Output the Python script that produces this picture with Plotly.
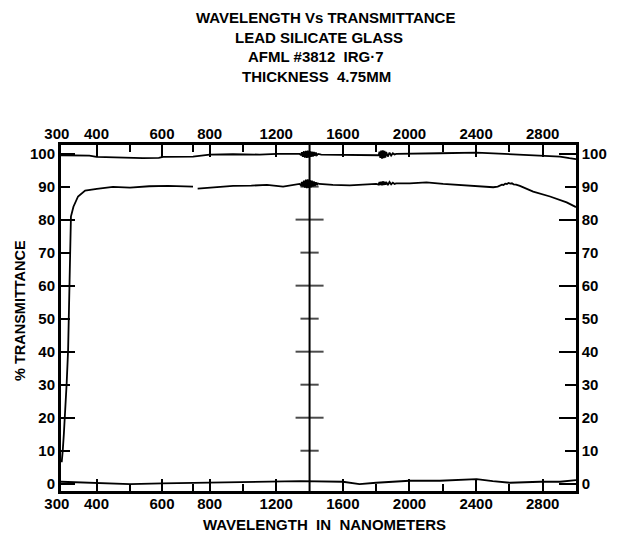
import numpy as np
import plotly.graph_objects as go

# ---- data: wavelength (nm) and % transmittance along each pen trace ----
SAMPLE_NM = [302, 304, 305, 308, 311, 316, 320, 322, 325, 326, 327, 328, 335, 348, 368, 385,
             401, 449, 500, 560, 620, 700, None, 728, 760, 850, 941, 1050, 1144, 1241, 1300, 1340,
             1348, 1354, 1360, 1366, 1372, 1378, 1384, 1390, 1396, 1402, 1408, 1414, 1420, 1426,
             1432, 1438, 1444, 1450, 1458,
             1540, 1641, 1741, 1800,
             1815, 1820, 1825, 1830, 1835, 1840, 1845, 1850, 1855, 1860, 1870, 1880, 1890, 1900,
             1910, 1920,
             2001, 2102, 2202, 2302, 2403, 2503, 2530,
             2545, 2555, 2565, 2575, 2585, 2595, 2605, 2615, 2625, 2640,
             2663, 2743, 2844, 2944, 3000]
SAMPLE_T = [6.5, 8.0, 10.2, 15.0, 20.2, 30.5, 40.5, 49.9, 59.6, 67.8, 76.0, 80.9, 83.9, 87.0, 88.8, 89.1,
            89.3, 89.9, 89.7, 90.1, 90.2, 90.0, None, 89.4, 89.5, 89.8, 90.2, 90.3, 90.5, 90.0, 90.4, 90.8,
            90.4, 91.4, 90.0, 91.8, 89.7, 92.1, 89.5, 92.2, 89.6, 92.0, 89.8, 91.8, 90.0, 91.6,
            90.2, 91.3, 90.5, 91.0, 90.8,
            90.5, 90.4, 90.7, 90.8,
            90.6, 91.4, 90.5, 91.5, 90.4, 91.6, 90.5, 91.5, 90.6, 91.4, 90.5, 91.4, 90.7, 91.2,
            90.8, 91.0,
            91.0, 91.3, 90.8, 90.5, 90.2, 89.8, 90.0,
            90.3, 90.6, 90.5, 90.9, 90.8, 91.1, 90.9, 91.0, 90.7, 90.6,
            90.2, 88.5, 87.0, 85.2, 83.8]

REF100_NM = [300, 380, 400, 450, 540, 590, 603, 700, 800, 940, 1100, 1205, 1340,
             1348, 1354, 1360, 1366, 1372, 1378, 1384, 1390, 1396, 1402, 1408, 1414, 1420, 1426,
             1432, 1438, 1444, 1452, 1470,
             1641, 1780,
             1815, 1820, 1825, 1830, 1835, 1840, 1845, 1850, 1855, 1860, 1870, 1880, 1890, 1900,
             1910, 1920,
             2001, 2182, 2403, 2603, 2784, 2904, 2960, 3000]
REF100_T = [99.5, 99.4, 99.0, 98.8, 98.6, 98.7, 99.0, 99.1, 99.7, 99.8, 99.7, 99.9, 99.9,
            99.6, 100.4, 99.0, 100.7, 98.8, 100.8, 98.7, 100.9, 98.8, 100.7, 99.0, 100.6, 99.1, 100.5,
            99.3, 100.3, 99.5, 99.9, 99.7,
            99.6, 99.7,
            99.5, 100.6, 98.7, 100.9, 98.5, 101.0, 98.6, 100.8, 98.8, 100.5, 99.1, 100.3, 99.4, 100.1,
            99.7, 99.9,
            99.9, 100.1, 100.3, 99.9, 99.4, 99.1, 98.6, 98.3]

ZERO_NM = [300, 400, 500, 600, 742, 1043, 1344, 1600, 1700, 1800, 2000, 2182, 2403, 2500,
           2603, 2784, 2904, 3000]
ZERO_T = [0.6, 0.3, -0.1, 0.1, 0.3, 0.6, 0.8, 0.6, -0.1, 0.3, 0.9, 0.9, 1.4, 0.8,
          0.3, 0.6, 0.6, 1.1]

LABELED_NM = [300, 400, 600, 800, 1200, 1600, 2000, 2400, 2800]
UNLABELED_NM = [500, 700, 1000, 1800, 2200, 2600]
PCT_TICKS = list(range(0, 101, 10))
SPLIT_NM = 1400

TITLE_LINES = ["WAVELENGTH Vs TRANSMITTANCE", "LEAD SILICATE GLASS",
               "AFML #3812  IRG·7", "THICKNESS  4.75MM"]
X_TITLE = "WAVELENGTH  IN  NANOMETERS"
Y_TITLE = "% TRANSMITTANCE"

# ---- chart-paper wavelength scale (drive runs faster below 700 nm) ----
SCALE_NM = [300, 400, 500, 600, 700, 3000]
SCALE_POS = [0.0, 35.5, 69.0, 101.0, 132.0, 515.0]


def chart_pos(nm):
    return float(np.interp(nm, SCALE_NM, SCALE_POS))


def to_pos(values):
    return [None if v is None else chart_pos(v) for v in values]


def tick_text(v):
    # the first label sits a little left of the frame corner
    return "300\u00a0\u00a0" if v == 300 else str(v)


INK = "#000000"
FONT = "Liberation Sans"
W, H = 620, 536
L, R, T, B = 61, 44, 145, 45
X_RANGE = [SCALE_POS[0], SCALE_POS[-1]]
Y_RANGE = [-2.2, 102.6]


def paper(px, py):
    """Figure pixel position -> paper coordinates of the plotting area."""
    return (px - L) / (W - L - R), (H - B - py) / (H - T - B)


fig = go.Figure()

for nm, t in [(REF100_NM, REF100_T), (SAMPLE_NM, SAMPLE_T), (ZERO_NM, ZERO_T)]:
    fig.add_trace(go.Scatter(x=to_pos(nm), y=t, mode="lines", connectgaps=False,
                             line=dict(color=INK, width=1.8),
                             hoverinfo="skip", showlegend=False))

# cross ticks along the 1400 nm chart split
split_y = PCT_TICKS[1:-1]
fig.add_trace(go.Scatter(
    x=[chart_pos(SPLIT_NM)] * len(split_y), y=split_y, mode="markers",
    marker=dict(symbol="line-ew", size=[20 if v % 20 == 0 else 13 for v in split_y],
                line=dict(color=INK, width=2)),
    hoverinfo="skip", showlegend=False))

# empty traces that carry the extra overlaid axes
for xa, ya in [("x2", "y"), ("x", "y2"), ("x", "y3"), ("x", "y4")]:
    fig.add_trace(go.Scatter(x=[], y=[], xaxis=xa, yaxis=ya, hoverinfo="skip",
                             showlegend=False))

fig.add_shape(type="line", xref="x", yref="paper",
              x0=chart_pos(SPLIT_NM), x1=chart_pos(SPLIT_NM), y0=0, y1=1,
              line=dict(color=INK, width=2))

tickfont = dict(family=FONT, size=15, color=INK, weight="bold")
x_common = dict(range=X_RANGE, showgrid=False, zeroline=False, ticks="inside",
                tickmode="array", tickvals=[chart_pos(v) for v in LABELED_NM],
                ticktext=[tick_text(v) for v in LABELED_NM], ticklen=12, tickwidth=2,
                tickcolor=INK, tickfont=tickfont, showline=True, linecolor=INK,
                ticklabelstandoff=-3,
                minor=dict(tickmode="array", tickvals=[chart_pos(v) for v in UNLABELED_NM],
                           ticks="inside", ticklen=7, tickwidth=2, tickcolor=INK))
y_common = dict(range=Y_RANGE, showgrid=False, zeroline=False, ticks="inside",
                tickmode="array", tickvals=PCT_TICKS, tickwidth=2, tickcolor=INK)

fig.update_layout(
    width=W, height=H, margin=dict(l=L, r=R, t=T, b=B, pad=0),
    paper_bgcolor="white", plot_bgcolor="white", showlegend=False,
    xaxis=dict(**x_common, side="bottom", linewidth=3),
    xaxis2=dict(**x_common, side="top", overlaying="x", anchor="y", linewidth=2.5),
    yaxis=dict(**y_common, side="left", ticklen=9, showline=True, linewidth=3,
               linecolor=INK, tickfont=tickfont),
    yaxis2=dict(**y_common, side="right", overlaying="y", anchor="x", ticklen=11,
                showline=True, linewidth=2.5, linecolor=INK, tickfont=tickfont),
    yaxis3=dict(range=Y_RANGE, showgrid=False, zeroline=False, ticks="inside",
                tickmode="array", tickvals=PCT_TICKS[::2], ticklen=14, tickwidth=2,
                tickcolor=INK, showticklabels=False, side="left", overlaying="y",
                anchor="x", showline=False),
    yaxis4=dict(range=Y_RANGE, showgrid=False, zeroline=False, ticks="inside",
                tickmode="array", tickvals=PCT_TICKS[::2], ticklen=17, tickwidth=2,
                tickcolor=INK, showticklabels=False, side="right", overlaying="y",
                anchor="x", showline=False),
)

title_pos = [(325, 17), (319, 37), (316, 57), (316, 76)]
for text, (px, py) in zip(TITLE_LINES, title_pos):
    ax_, ay_ = paper(px, py)
    fig.add_annotation(text=text, x=ax_, y=ay_, xref="paper", yref="paper",
                       xanchor="center", yanchor="middle", showarrow=False,
                       font=dict(family=FONT, size=15, color=INK, weight="bold"))

ax_, ay_ = paper(324.7, 524)
fig.add_annotation(text=X_TITLE, x=ax_, y=ay_, xref="paper", yref="paper",
                   xanchor="center", yanchor="middle", showarrow=False,
                   font=dict(family=FONT, size=15, color=INK, weight="bold"))
ax_, ay_ = paper(20, 311)
fig.add_annotation(text=Y_TITLE, x=ax_, y=ay_, xref="paper", yref="paper",
                   xanchor="center", yanchor="middle", showarrow=False, textangle=-90,
                   font=dict(family=FONT, size=14.5, color=INK, weight="bold"))

fig.write_html("out.html")
